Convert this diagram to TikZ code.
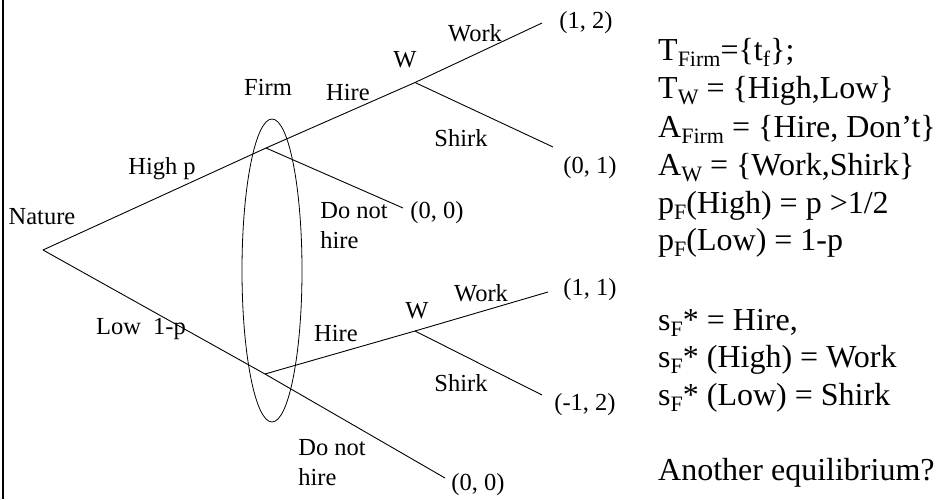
\documentclass[tikz,border=0pt]{standalone}
\usepackage{fontspec}
\setmainfont{Liberation Serif}
\newcommand\sbs[1]{\raisebox{-6pt}{\fontsize{22}{22}\selectfont #1}}
\begin{document}
\begin{tikzpicture}[x=1pt,y=-1pt,
  edge/.style={line width=0.9pt},
  lbl/.style={inner sep=0pt,font=\fontsize{24.5}{30}\selectfont},
  rt/.style={inner sep=0pt,anchor=base west,font=\fontsize{32}{38}\selectfont}]
\useasboundingbox (0,0) rectangle (937,499);
\draw[line width=2.5pt] (3,0) -- (3,499);
% tree nodes
\coordinate (root) at (43,250);
\coordinate (F1) at (266,148);
\coordinate (W1) at (415,82.5);
\coordinate (e1) at (542,23);
\coordinate (s1) at (553,147);
\coordinate (d1) at (403,208);
\coordinate (F2) at (265,374);
\coordinate (W2) at (415,331);
\coordinate (e2) at (548,292);
\coordinate (s2) at (542,395);
\coordinate (d2) at (445,478);
% edges
\draw[edge] (root) -- (F1) -- (W1) -- (e1);
\draw[edge] (W1) -- (s1);
\draw[edge] (F1) -- (d1);
\draw[edge] (root) -- (F2) -- (d2);
\draw[edge] (F2) -- (W2) -- (e2);
\draw[edge] (W2) -- (s2);
% information set
\draw[line width=0.8pt] (272,270.5) ellipse [x radius=30, y radius=151.5];
% labels
\node[lbl] (nature) at (42,217) {Nature};
\node[lbl] (highp) at (162,169) {High p};
\node[lbl] (firm) at (268,87) {Firm};
\node[lbl] (lowp) at (141,329) {Low\hspace{12pt}1-p};
\node[lbl] (hire1) at (348,93) {Hire};
\node[lbl] (w1l) at (405,60) {W};
\node[lbl] (work1) at (475,33) {Work};
\node[lbl] (p12) at (586,23) {(1, 2)};
\node[lbl] (shirk1) at (461,138) {Shirk};
\node[lbl] (p01) at (590,168) {(0, 1)};
\node[lbl,align=left] (dnh1) at (354,226) {Do not\\hire};
\node[lbl] (p00a) at (437,213) {(0, 0)};
\node[lbl] (hire2) at (336,334) {Hire};
\node[lbl] (w2l) at (417,311) {W};
\node[lbl] (work2) at (481,293) {Work};
\node[lbl] (p11) at (590,290) {(1, 1)};
\node[lbl] (shirk2) at (461,383) {Shirk};
\node[lbl] (pm12) at (585,405) {(-1, 2)};
\node[lbl,align=left] (dnh2) at (332,463) {Do not\\hire};
\node[lbl] (p00b) at (478,485) {(0, 0)};
% right text
\node[rt] (t1) at (658,60) {T\sbs{Firm}=\{t\sbs{f}\};};
\node[rt] (t2) at (658,98) {T\sbs{W} = \{High,Low\}};
\node[rt] (t3) at (658,137) {A\sbs{Firm} = \{Hire, Don’t\}};
\node[rt] (t4) at (658,175) {A\sbs{W} = \{Work,Shirk\}};
\node[rt] (t5) at (658,213) {p\sbs{F}(High) = p >1/2};
\node[rt] (t6) at (658,250) {p\sbs{F}(Low) = 1-p};
\node[rt] (t7) at (658,330) {s\sbs{F}* = Hire,};
\node[rt] (t8) at (658,367) {s\sbs{F}* (High) = Work};
\node[rt] (t9) at (658,405) {s\sbs{F}* (Low) = Shirk};
\node[rt] (t10) at (658,480) {Another equilibrium?};
\end{tikzpicture}
\end{document}
